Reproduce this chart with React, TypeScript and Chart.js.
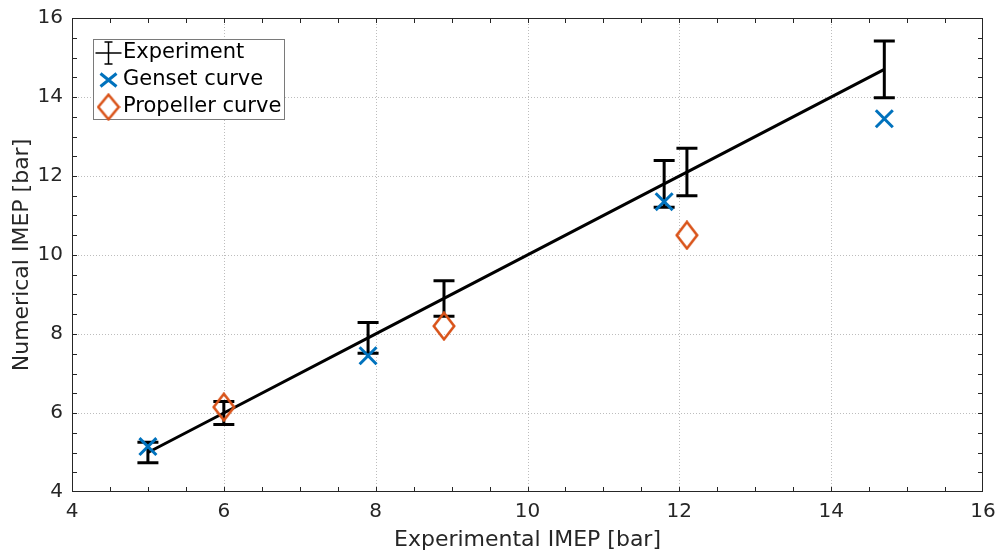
import React, { useEffect, useRef } from 'react';
import { Chart, registerables } from 'chart.js';

Chart.register(...registerables);

// ---- data ----
const expX = [5, 6, 7.9, 8.9, 11.8, 12.1, 14.7];
const expY = [5.0, 6.0, 7.9, 8.9, 11.8, 12.1, 14.7];
const expErr = [0.26, 0.29, 0.39, 0.45, 0.59, 0.6, 0.72];
const gensetX = [5, 7.9, 11.8, 14.7];
const gensetY = [5.15, 7.45, 11.35, 13.45];
const propX = [6, 8.9, 12.1];
const propY = [6.15, 8.2, 10.5];
const majorTicks = [4, 6, 8, 10, 12, 14, 16];
const minorTicks = [4.5, 5, 5.5, 6, 6.5, 7, 7.5, 8, 8.5, 9, 9.5, 10, 10.5, 11, 11.5, 12, 12.5, 13, 13.5, 14, 14.5, 15, 15.5];
const legendLabels = ['Experiment', 'Genset curve', 'Propeller curve'];
const xTitle = 'Experimental IMEP [bar]';
const yTitle = 'Numerical IMEP [bar]';

const FONT = '"DejaVu Sans", sans-serif';
const BLUE = '#0072BD';
const ORANGE = '#D95319';
const AXIS = '#262626';

function makeDiamond(): HTMLCanvasElement {
  const c = document.createElement('canvas');
  c.width = 24;
  c.height = 30;
  const g = c.getContext('2d')!;
  g.strokeStyle = ORANGE;
  g.lineWidth = 2.6;
  g.lineJoin = 'miter';
  g.beginPath();
  g.moveTo(12, 1.8);
  g.lineTo(22.2, 15);
  g.lineTo(12, 28.2);
  g.lineTo(1.8, 15);
  g.closePath();
  g.stroke();
  return c;
}

export default function App() {
  const ref = useRef<HTMLCanvasElement>(null);

  useEffect(() => {
    const diamond = makeDiamond();

    const matlabPlugin = {
      id: 'matlabStyle',
      beforeDatasetsDraw(chart: any) {
        const { ctx, chartArea: a, scales } = chart;
        const x = scales.x;
        const y = scales.y;
        ctx.save();
        ctx.strokeStyle = '#bdbdbd';
        ctx.lineWidth = 1;
        ctx.setLineDash([1, 2]);
        majorTicks.forEach((v) => {
          if (v > x.min && v < x.max) {
            const px = Math.round(x.getPixelForValue(v)) + 0.5;
            ctx.beginPath();
            ctx.moveTo(px, a.top);
            ctx.lineTo(px, a.bottom);
            ctx.stroke();
          }
          if (v > y.min && v < y.max) {
            const py = Math.round(y.getPixelForValue(v)) + 0.5;
            ctx.beginPath();
            ctx.moveTo(a.left, py);
            ctx.lineTo(a.right, py);
            ctx.stroke();
          }
        });
        ctx.restore();

        // error bars
        ctx.save();
        ctx.strokeStyle = '#000';
        ctx.lineWidth = 3;
        ctx.lineCap = 'butt';
        expX.forEach((xv, i) => {
          const px = x.getPixelForValue(xv);
          const pt = y.getPixelForValue(expY[i] + expErr[i]);
          const pb = y.getPixelForValue(expY[i] - expErr[i]);
          ctx.beginPath();
          ctx.moveTo(px, pt);
          ctx.lineTo(px, pb);
          ctx.moveTo(px - 10.5, pt);
          ctx.lineTo(px + 10.5, pt);
          ctx.moveTo(px - 10.5, pb);
          ctx.lineTo(px + 10.5, pb);
          ctx.stroke();
        });
        ctx.restore();
      },
      afterDraw(chart: any) {
        const { ctx, chartArea: a, scales } = chart;
        const x = scales.x;
        const y = scales.y;
        ctx.save();
        // inward ticks on all sides
        ctx.strokeStyle = AXIS;
        ctx.lineWidth = 1;
        const tl = 5;
        minorTicks.forEach((v) => {
          const px = Math.round(x.getPixelForValue(v)) + 0.5;
          ctx.beginPath();
          ctx.moveTo(px, a.bottom);
          ctx.lineTo(px, a.bottom - tl);
          ctx.moveTo(px, a.top);
          ctx.lineTo(px, a.top + tl);
          ctx.stroke();
          const py = Math.round(y.getPixelForValue(v)) + 0.5;
          ctx.beginPath();
          ctx.moveTo(a.left, py);
          ctx.lineTo(a.left + tl, py);
          ctx.moveTo(a.right, py);
          ctx.lineTo(a.right - tl, py);
          ctx.stroke();
        });
        // box
        ctx.strokeStyle = AXIS;
        ctx.lineWidth = 1;
        const l = Math.round(a.left) + 0.5;
        const t = Math.round(a.top) + 0.5;
        const r = Math.round(a.right) - 0.5;
        const b = Math.round(a.bottom) - 0.5;
        ctx.strokeRect(l, t, r - l, b - t);

        // legend
        const lx = a.left + 21;
        const ly = a.top + 21;
        const lw = 191;
        const lh = 80;
        ctx.fillStyle = '#fff';
        ctx.fillRect(lx, ly, lw, lh);
        ctx.strokeStyle = '#7a7a7a';
        ctx.lineWidth = 1;
        ctx.strokeRect(Math.round(lx) + 0.5, Math.round(ly) + 0.5, lw, lh);

        const sx = lx + 15.5;
        const rows = [ly + 14, ly + 41, ly + 68];
        // experiment icon
        ctx.strokeStyle = '#000';
        ctx.lineWidth = 1.5;
        ctx.beginPath();
        ctx.moveTo(sx - 13, rows[0]);
        ctx.lineTo(sx + 13, rows[0]);
        ctx.moveTo(sx, rows[0] - 11);
        ctx.lineTo(sx, rows[0] + 11);
        ctx.moveTo(sx - 4, rows[0] - 11);
        ctx.lineTo(sx + 4, rows[0] - 11);
        ctx.moveTo(sx - 4, rows[0] + 11);
        ctx.lineTo(sx + 4, rows[0] + 11);
        ctx.stroke();
        // genset icon
        ctx.strokeStyle = BLUE;
        ctx.lineWidth = 3;
        ctx.beginPath();
        ctx.moveTo(sx - 8, rows[1] - 6.5);
        ctx.lineTo(sx + 8, rows[1] + 6.5);
        ctx.moveTo(sx + 8, rows[1] - 6.5);
        ctx.lineTo(sx - 8, rows[1] + 6.5);
        ctx.stroke();
        // propeller icon
        ctx.drawImage(diamond, sx - 12, rows[2] - 14, 24, 28);

        ctx.fillStyle = '#000';
        ctx.font = '21px ' + FONT;
        ctx.textBaseline = 'middle';
        ctx.textAlign = 'left';
        legendLabels.forEach((s, i) => ctx.fillText(s, lx + 30, rows[i]));
        ctx.restore();
      },
    };

    const chart = new Chart(ref.current!, {
      type: 'scatter',
      data: {
        datasets: [
          {
            label: legendLabels[0],
            type: 'line',
            data: expX.map((v, i) => ({ x: v, y: expY[i] })),
            borderColor: '#000',
            borderWidth: 3,
            pointRadius: 0,
            showLine: true,
            fill: false,
            order: 3,
          } as any,
          {
            label: legendLabels[1],
            data: gensetX.map((v, i) => ({ x: v, y: gensetY[i] })),
            pointStyle: 'crossRot',
            pointRadius: 12,
            borderColor: BLUE,
            borderWidth: 3,
            order: 2,
          },
          {
            label: legendLabels[2],
            data: propX.map((v, i) => ({ x: v, y: propY[i] })),
            pointStyle: diamond,
            pointRadius: 12,
            borderColor: ORANGE,
            order: 1,
          },
        ],
      },
      options: {
        animation: false,
        responsive: false,
        maintainAspectRatio: false,
        devicePixelRatio: 1,
        layout: { padding: { top: 18, right: 18, left: 0, bottom: 0 } },
        plugins: { legend: { display: false }, tooltip: { enabled: false } },
        scales: {
          x: {
            type: 'linear',
            min: 4,
            max: 16,
            afterBuildTicks: (s: any) => {
              s.ticks = majorTicks.map((v) => ({ value: v }));
            },
            afterFit: (s: any) => {
              s.height = 64;
              s.paddingLeft = 0;
              s.paddingRight = 0;
            },
            ticks: { font: { family: FONT, size: 20 }, color: AXIS, padding: 8 },
            grid: { display: false, drawTicks: false },
            border: { display: false },
            title: {
              display: true,
              text: xTitle,
              color: AXIS,
              font: { family: FONT, size: 22 },
              padding: { top: 0, bottom: 3 },
            },
          },
          y: {
            type: 'linear',
            min: 4,
            max: 16,
            afterBuildTicks: (s: any) => {
              s.ticks = majorTicks.map((v) => ({ value: v }));
            },
            afterFit: (s: any) => {
              s.width = 72;
              s.paddingTop = 0;
              s.paddingBottom = 0;
            },
            ticks: { font: { family: FONT, size: 20 }, color: AXIS, padding: 9 },
            grid: { display: false, drawTicks: false },
            border: { display: false },
            title: {
              display: true,
              text: yTitle,
              color: AXIS,
              font: { family: FONT, size: 22 },
              padding: { top: 9, bottom: 0 },
            },
          },
        },
      },
      plugins: [matlabPlugin],
    });
    return () => chart.destroy();
  }, []);

  return (
    <div style={{ position: 'absolute', left: 0, top: 0, width: 1001, height: 556, background: '#fff' }}>
      <canvas ref={ref} width={1001} height={556} style={{ display: 'block' }} />
    </div>
  );
}
